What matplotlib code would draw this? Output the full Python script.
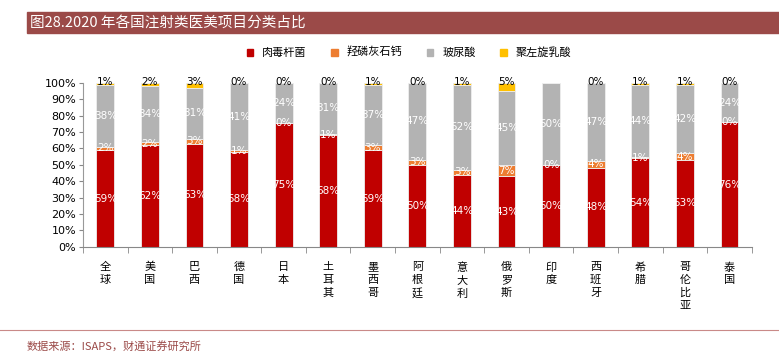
import numpy as np
import matplotlib.pyplot as plt
from matplotlib.patches import Rectangle
from matplotlib.lines import Line2D

plt.rcParams['font.family'] = ['Noto Sans CJK SC', 'DejaVu Sans']

# -------------------------------------------------
# data (share of injectable procedures, %)
# -------------------------------------------------
countries = ['全球', '美国', '巴西', '德国', '日本', '土耳其', '墨西哥', '阿根廷',
             '意大利', '俄罗斯', '印度', '西班牙', '希腊', '哥伦比亚', '泰国']
botox = [59, 62, 63, 58, 75.4, 68, 59, 50, 44, 43, 50, 48.4, 54, 53, 76]
caha = [2, 2, 3, 1, 0.3, 1, 3, 3, 3, 7, 0, 4, 1, 4, 0.2]
hyaluronic = [38, 34, 31, 41, 24.1, 31, 37, 47, 52, 45, 50, 47.4, 44, 42, 23.6]
plla = [1, 2, 3, 0.2, 0.2, 0.2, 1, 0.2, 1, 5, 0, 0.2, 1, 1, 0.2]
series_names = ['肉毒杆菌', '羟磷灰石钙', '玻尿酸', '聚左旋乳酸']

colors = ['#C00000', '#ED7D31', '#B3B3B3', '#FFC000']
series = [botox, caha, hyaluronic, plla]

# -------------------------------------------------
# plot
# -------------------------------------------------
fig = plt.figure(figsize=(7.79, 3.62), dpi=100)
ax = fig.add_axes([0.1065, 0.318, 0.8585, 0.453])

x = np.arange(len(countries))
bottom = np.zeros(len(countries))
for i, (vals, c, name) in enumerate(zip(series, colors, series_names)):
    vals = np.array(vals, dtype=float)
    ax.bar(x, vals, 0.4, bottom=bottom, color=c, edgecolor='#eeeeee',
           linewidth=0.6, label=name)
    for xi, b, v in zip(x, bottom, vals):
        if i == 3:
            if countries[xi] == '印度':
                continue
            ax.text(xi, 100.3, f'{v:.0f}%', ha='center', va='center',
                    fontsize=7.5, color='black', family='DejaVu Sans')
        else:
            ax.text(xi, b + v / 2, f'{v:.0f}%', ha='center', va='center',
                    fontsize=7.5, color='white', family='DejaVu Sans')
    bottom += vals

ax.set_xlim(-0.5, len(countries) - 0.5)
ax.set_ylim(0, 100)
ax.set_yticks(np.arange(0, 101, 10))
ax.set_yticklabels([f'{t}%' for t in range(0, 101, 10)], fontsize=8,
                   family='DejaVu Sans')
ax.set_xticks(x)
ax.set_xticklabels(['\n'.join(c) for c in countries], fontsize=8,
                   linespacing=1.35)
ax.set_xticks(np.arange(-0.5, len(countries)), minor=True)
ax.tick_params(axis='x', which='major', length=0, pad=11)
ax.tick_params(axis='x', which='minor', length=4, color='#888888')
ax.tick_params(axis='y', length=3, color='#888888', pad=2)
for s in ['top', 'right']:
    ax.spines[s].set_visible(False)
ax.spines['left'].set_color('#999999')
ax.spines['bottom'].set_color('#888888')

handles = [Rectangle((0, 0), 1, 1, color=c) for c in colors]
fig.legend(handles, series_names, loc='center', ncol=4,
           bbox_to_anchor=(0.525, 0.855), frameon=False, fontsize=8,
           handlelength=0.6, handleheight=0.6, columnspacing=2.2,
           handletextpad=0.8)

# title bar
fig.patches.append(Rectangle((27 / 779, 1 - 33 / 362), 1, 21 / 362,
                             transform=fig.transFigure, color='#9B4A48',
                             zorder=0))
fig.text(30 / 779, 1 - 22.5 / 362, '图28.2020 年各国注射类医美项目分类占比',
         color='white', fontsize=10.5, va='center', ha='left')

# bottom rule and source
fig.add_artist(Line2D([0, 1], [1 - 330 / 362] * 2, transform=fig.transFigure,
                      color='#C98A88', linewidth=0.8))
fig.text(27 / 779, 1 - 346 / 362, '数据来源：ISAPS，财通证券研究所',
         color='#9B4A48', fontsize=8, va='center', ha='left')

fig.savefig('out.png', dpi=100)
